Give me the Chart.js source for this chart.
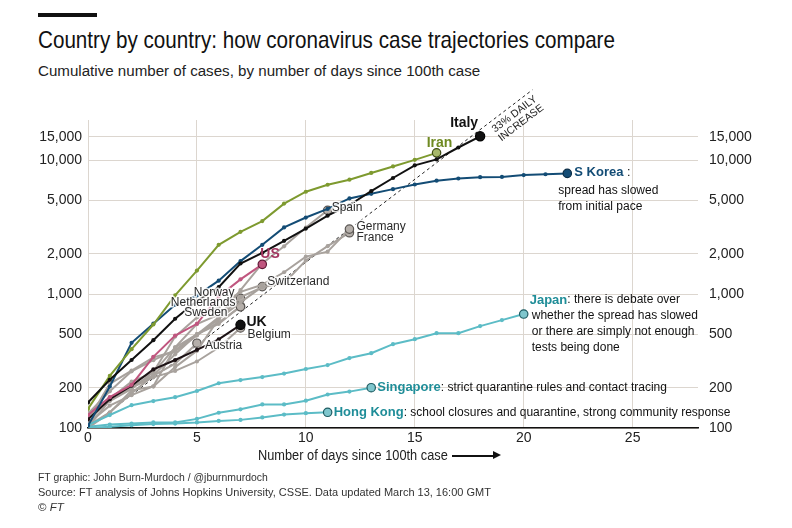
<!DOCTYPE html>
<html>
<head>
<meta charset="utf-8">
<title>Country by country: how coronavirus case trajectories compare</title>
<script src="https://cdn.jsdelivr.net/npm/chart.js@4.4.1/dist/chart.umd.min.js"></script>
<style>
  html, body { margin:0; padding:0; background:#ffffff; }
  body { width:792px; height:528px; position:relative; overflow:hidden; font-family:"Liberation Sans", Arial, sans-serif; color:#1a1a1a; }
  #chart { position:absolute; left:0; top:0; }
  .txt { position:absolute; white-space:nowrap; transform-origin:0 0; line-height:1; }
  #bar { position:absolute; left:38px; top:13px; width:59px; height:4px; background:#111; }
  #title { left:38px; top:28px; font-size:24px; color:#111; }
  #subtitle { left:38px; top:63px; font-size:15.5px; color:#222; }
  #xtitle { left:258px; top:448px; font-size:14px; color:#222; }
  #arrow { position:absolute; left:452px; top:455px; width:42px; height:1.5px; background:#111; }
  #arrowhead { position:absolute; left:493px; top:451px; width:0; height:0; border-top:4.5px solid transparent; border-bottom:4.5px solid transparent; border-left:8px solid #111; }
  .foot { left:38px; font-size:11.5px; color:#333; }
</style>
</head>
<body>
<div id="bar"></div>
<div id="title" class="txt" data-w="577">Country by country: how coronavirus case trajectories compare</div>
<div id="subtitle" class="txt" data-w="442">Cumulative number of cases, by number of days since 100th case</div>
<canvas id="chart" width="792" height="528"></canvas>
<div id="xtitle" class="txt" data-w="190">Number of days since 100th case</div>
<div id="arrow"></div><div id="arrowhead"></div>
<div class="txt foot" style="top:472px" data-w="230">FT graphic: John Burn-Murdoch / @jburnmurdoch</div>
<div class="txt foot" style="top:487px" data-w="453">Source: FT analysis of Johns Hopkins University, CSSE. Data updated March 13, 16:00 GMT</div>
<div class="txt foot" style="top:502px">© <i>FT</i></div>
<script>
// ---------- data (cumulative cases, index = days since 100th case) ----------
const ITALY       = [155, 229, 322, 453, 655, 888, 1128, 1694, 2036, 2502, 3089, 3858, 4636, 5883, 7375, 9172, 10149, 12462, 15113];
const IRAN        = [139, 245, 388, 593, 978, 1501, 2336, 2922, 3513, 4747, 5823, 6566, 7161, 8042, 9000, 10075, 11364];
const SKOREA      = [104, 204, 433, 602, 833, 977, 1261, 1766, 2337, 3150, 3736, 4335, 5186, 5621, 6088, 6593, 7041, 7314, 7478, 7513, 7755, 7869, 7979];
const US          = [125, 170, 210, 340, 490, 600, 960, 1290, 1670];
const UK          = [116, 164, 207, 274, 322, 384, 459, 590];
const SPAIN       = [120, 165, 222, 259, 400, 500, 673, 1073, 1695, 2277, 3146, 4231];
const GERMANY     = [130, 159, 196, 262, 482, 670, 799, 1040, 1176, 1457, 1908, 2078, 3062];
const FRANCE      = [100, 130, 191, 204, 285, 377, 653, 949, 1126, 1209, 1784, 2281, 2876];
const SWITZERLAND = [114, 214, 268, 337, 374, 491, 652, 868, 1139];
const NORWAY      = [108, 147, 176, 205, 400, 598, 702, 930];
const NETHERLANDS = [128, 188, 265, 321, 382, 503, 614, 804];
const SWEDEN      = [101, 161, 203, 248, 355, 500, 599, 814];
const BELGIUM     = [109, 169, 200, 239, 267, 314, 399, 559];
const AUSTRIA     = [104, 131, 182, 246, 302, 430];
const JAPAN       = [105, 125, 148, 159, 170, 189, 216, 228, 240, 255, 276, 295, 333, 362, 423, 461, 511, 511, 577, 640, 710];
const SINGAPORE   = [102, 106, 108, 110, 110, 117, 130, 138, 150, 150, 160, 178, 187, 200];
const HONGKONG    = [100, 102, 105, 107, 108, 110, 113, 115, 120, 126, 129, 131];
const REF_DAYS    = [0, 20.4];       // 33% daily increase guide line
const REF_VALUES  = [100, 33600];
const X_TICKS = [0, 5, 10, 15, 20, 25];
const Y_TICKS = [100, 200, 500, 1000, 2000, 5000, 10000, 15000];

// ---------- styles ----------
const GRAY = '#a8a29d', GRAY_END = '#b5afaa', GRAY_EDGE = '#5a5653', LBL = '#2a2a2a';
const TEAL = '#5cbcc6', TEAL_END = '#7fc6cd', TEAL_EDGE = '#1f5c62', TEAL_TXT = '#1f8d98';
const F = 'Liberation Sans, Arial, sans-serif';

const SERIES = [
  {data: ITALY, color:'#111111', end:'#111111', edge:'#000', w:2, endR:4.6,
   rows:[{dx:-2, dy:-13, align:'right', runs:[{t:'Italy', b:true, s:14, c:'#111'}]}]},
  {data: IRAN, color:'#7e9a2f', end:'#a7b86a', edge:'#3f4d14', w:2,
   rows:[{dx:3, dy:-10, align:'center', runs:[{t:'Iran', b:true, s:14, c:'#6f8a22'}]}]},
  {data: SKOREA, color:'#134c75', end:'#134c75', edge:'#0a2c45', w:2,
   rows:[{dx:7, dy:-1, runs:[{t:'S Korea', b:true, s:13, c:'#134c75'}, {t:' :', s:12.5, c:'#111'}]},
         {dx:-9, dy:17, runs:[{t:'spread has slowed', s:12, c:'#111'}]},
         {dx:-9, dy:33, runs:[{t:'from initial pace', s:12, c:'#111'}]}]},
  {data: US, color:'#c0567f', end:'#c0567f', edge:'#5e1834', w:2,
   rows:[{dx:-2, dy:-10, runs:[{t:'US', b:true, s:14, c:'#a3355f'}]}]},
  {data: UK, color:'#1c1114', end:'#111', edge:'#000', w:2, endR:4.6,
   rows:[{dx:6, dy:-3, halo:true, runs:[{t:'UK', b:true, s:14, c:'#111'}]}]},
  {data: JAPAN, color:TEAL, end:TEAL_END, edge:TEAL_EDGE, w:2,
   rows:[{dx:6, dy:-14, runs:[{t:'Japan', b:true, s:13, c:TEAL_TXT}, {t:': there is debate over', s:12, c:'#111'}]},
         {dx:8, dy:2, runs:[{t:'whether the spread has slowed', s:12, c:'#111'}]},
         {dx:8, dy:18, runs:[{t:'or there are simply not enough', s:12, c:'#111'}]},
         {dx:8, dy:34, runs:[{t:'tests being done', s:12, c:'#111'}]}]},
  {data: SINGAPORE, color:TEAL, end:TEAL_END, edge:TEAL_EDGE, w:2,
   rows:[{dx:6, dy:0, runs:[{t:'Singapore', b:true, s:13, c:TEAL_TXT}, {t:': strict quarantine rules and contact tracing', s:12, c:'#111'}]}]},
  {data: HONGKONG, color:TEAL, end:TEAL_END, edge:TEAL_EDGE, w:2,
   rows:[{dx:6, dy:0, runs:[{t:'Hong Kong', b:true, s:13, c:TEAL_TXT}, {t:': school closures and quarantine, strong community response', s:12, c:'#111'}]}]},
  {data: SPAIN, color:GRAY, end:GRAY_END, edge:GRAY_EDGE, w:2,
   rows:[{dx:4, dy:-3, halo:true, runs:[{t:'Spain', s:12, c:LBL}]}]},
  {data: GERMANY, color:GRAY, end:GRAY_END, edge:GRAY_EDGE, w:2,
   rows:[{dx:7, dy:-2, halo:true, runs:[{t:'Germany', s:12, c:LBL}]}]},
  {data: FRANCE, color:GRAY, end:GRAY_END, edge:GRAY_EDGE, w:2,
   rows:[{dx:7, dy:5, halo:true, runs:[{t:'France', s:12, c:LBL}]}]},
  {data: SWITZERLAND, color:GRAY, end:GRAY_END, edge:GRAY_EDGE, w:2,
   rows:[{dx:5, dy:-5, halo:true, runs:[{t:'Switzerland', s:12, c:LBL}]}]},
  {data: NORWAY, color:GRAY, end:GRAY_END, edge:GRAY_EDGE, w:2,
   rows:[{dx:-6, dy:-6, align:'right', halo:true, runs:[{t:'Norway', s:12, c:LBL}]}]},
  {data: NETHERLANDS, color:GRAY, end:GRAY_END, edge:GRAY_EDGE, w:2,
   rows:[{dx:-5, dy:-4, align:'right', halo:true, runs:[{t:'Netherlands', s:12, c:LBL}]}]},
  {data: SWEDEN, color:GRAY, end:GRAY_END, edge:GRAY_EDGE, w:2,
   rows:[{dx:-13, dy:7, align:'right', halo:true, runs:[{t:'Sweden', s:12, c:LBL}]}]},
  {data: BELGIUM, color:GRAY, end:GRAY_END, edge:GRAY_EDGE, w:2,
   rows:[{dx:7, dy:7, halo:true, runs:[{t:'Belgium', s:12, c:LBL}]}]},
  {data: AUSTRIA, color:GRAY, end:GRAY_END, edge:GRAY_EDGE, w:2,
   rows:[{dx:8, dy:2, halo:true, runs:[{t:'Austria', s:12, c:LBL}]}]},
];

const toPts = (xs, ys) => ys.map((v, i) => ({x: xs ? xs[i] : i, y: v}));
const isLast = ctx => ctx.dataIndex === ctx.dataset.data.length - 1;

const datasets = SERIES.map(s => ({
  data: toPts(null, s.data),
  borderColor: s.color,
  borderWidth: s.w,
  pointRadius: ctx => isLast(ctx) ? (s.endR || 4.2) : 2.1,
  pointBackgroundColor: ctx => isLast(ctx) ? s.end : s.color,
  pointBorderColor: ctx => isLast(ctx) ? s.edge : s.color,
  pointBorderWidth: ctx => isLast(ctx) ? 1.2 : 0,
  tension: 0,
}));
datasets.push({
  data: toPts(REF_DAYS, REF_VALUES),
  borderColor: '#222', borderWidth: 1, borderDash: [3, 3],
  pointRadius: 0, clip: false,
});

const fontStr = r => (r.b ? 'bold ' : '') + r.s + 'px ' + F;

const labelPlugin = {
  id: 'labels',
  afterDatasetsDraw(chart) {
    const ctx = chart.ctx;
    ctx.save();
    ctx.textBaseline = 'middle';
    ctx.textAlign = 'left';
    SERIES.forEach((s, i) => {
      const meta = chart.getDatasetMeta(i);
      const p = meta.data[meta.data.length - 1];
      (s.rows || []).forEach(r => {
        let x = p.x + r.dx, y = p.y + r.dy;
        const widths = r.runs.map(run => { ctx.font = fontStr(run); return ctx.measureText(run.t).width; });
        const total = widths.reduce((a, b) => a + b, 0);
        if (r.align === 'right') x -= total; else if (r.align === 'center') x -= total / 2;
        r.runs.forEach((run, k) => {
          ctx.font = fontStr(run);
          if (r.halo) { ctx.strokeStyle = 'rgba(255,255,255,0.85)'; ctx.lineWidth = 3; ctx.lineJoin = 'round'; ctx.strokeText(run.t, x, y); }
          ctx.fillStyle = run.c;
          ctx.fillText(run.t, x, y);
          x += widths[k];
        });
      });
    });
    // label along the 33% guide line
    const xs = chart.scales.x, ys = chart.scales.y;
    const x0 = xs.getPixelForValue(REF_DAYS[0]), y0 = ys.getPixelForValue(REF_VALUES[0]);
    const x1 = xs.getPixelForValue(REF_DAYS[1]), y1 = ys.getPixelForValue(REF_VALUES[1]);
    const ang = Math.atan2(y1 - y0, x1 - x0);
    const t = 0.948;
    ctx.translate(x0 + (x1 - x0) * t, y0 + (y1 - y0) * t);
    ctx.rotate(ang);
    ctx.textAlign = 'center';
    ctx.font = '10.5px ' + F;
    ctx.fillStyle = '#222';
    ctx.fillText('33% DAILY', 0, 8.5);
    ctx.fillText('INCREASE', 0, 19.5);
    ctx.restore();
  }
};

const yTicks = { font: {size: 14, family: F}, color: '#222',
  callback: v => Number(v).toLocaleString('en-US') };
const setYTicks = s => { s.ticks = Y_TICKS.map(v => ({value: v})); };

new Chart(document.getElementById('chart'), {
  type: 'line',
  data: { datasets },
  plugins: [labelPlugin],
  options: {
    responsive: false, animation: false, devicePixelRatio: 1,
    layout: { padding: { top: 120, left: 0, right: 0, bottom: 0 } },
    plugins: { legend: { display: false }, tooltip: { enabled: false } },
    scales: {
      x: {
        type: 'linear', min: 0, max: 28, position: 'bottom',
        afterBuildTicks: s => { s.ticks = X_TICKS.map(v => ({value: v})); },
        afterFit: s => { s.height = 100; },
        grid: { color: '#dcd6cf', lineWidth: 1, drawTicks: false },
        border: { display: true, color: '#111', width: 1.5 },
        ticks: { padding: 2, font: {size: 14, family: F}, color: '#222', maxRotation: 0 }
      },
      y: {
        type: 'logarithmic', position: 'left', min: 100, max: 20000,
        afterBuildTicks: setYTicks,
        afterFit: s => { s.width = 88; },
        grid: { color: '#dcd6cf', lineWidth: 1, drawTicks: false },
        border: { display: false },
        ticks: Object.assign({ padding: 6 }, yTicks)
      },
      y2: {
        type: 'logarithmic', position: 'right', min: 100, max: 20000,
        afterBuildTicks: setYTicks,
        afterFit: s => { s.width = 94; },
        grid: { drawOnChartArea: false, drawTicks: false },
        border: { display: false },
        ticks: Object.assign({ padding: 11 }, yTicks)
      }
    }
  }
});

// fit HTML text lines to the measured widths of the reference
document.querySelectorAll('.txt[data-w]').forEach(el => {
  const target = parseFloat(el.dataset.w);
  const w = el.scrollWidth;
  if (w > 0) el.style.transform = 'scaleX(' + (target / w) + ')';
});
</script>
</body>
</html>
